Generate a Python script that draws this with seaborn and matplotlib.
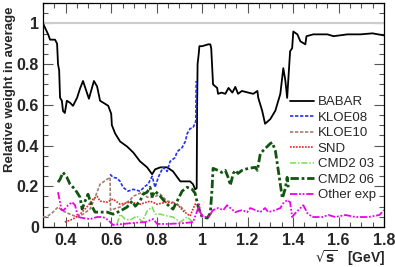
import matplotlib
matplotlib.use("Agg")
import matplotlib.pyplot as plt
import seaborn as sns
import pandas as pd
from matplotlib.ticker import MultipleLocator

# ---------------- data ----------------
babar_x = [0.300, 0.323, 0.331, 0.353, 0.362, 0.366, 0.371, 0.375, 0.383, 0.388,
           0.396, 0.405, 0.419, 0.432, 0.450, 0.463, 0.476, 0.490, 0.502, 0.524,
           0.538, 0.551, 0.573, 0.587, 0.600, 0.603, 0.617, 0.639, 0.670, 0.697,
           0.727, 0.758, 0.780, 0.793, 0.816, 0.846, 0.872, 0.904, 0.947, 0.960,
           0.969, 0.976, 0.978, 0.980, 0.985, 0.988, 1.000, 1.027, 1.036, 1.040,
           1.048, 1.066, 1.070, 1.086, 1.102, 1.116, 1.133, 1.146, 1.158, 1.175,
           1.203, 1.225, 1.243, 1.247, 1.264, 1.277, 1.300, 1.322, 1.344, 1.357,
           1.366, 1.374, 1.387, 1.396, 1.401, 1.419, 1.432, 1.454, 1.459, 1.489,
           1.551, 1.578, 1.639, 1.697, 1.749, 1.800]
babar_y = [1.000, 0.945, 0.920, 0.920, 0.900, 0.800, 0.770, 0.635, 0.620, 0.570,
           0.560, 0.620, 0.610, 0.595, 0.635, 0.680, 0.717, 0.670, 0.630, 0.717,
           0.690, 0.620, 0.605, 0.595, 0.556, 0.500, 0.460, 0.420, 0.395, 0.366,
           0.322, 0.293, 0.259, 0.283, 0.293, 0.293, 0.273, 0.224, 0.224, 0.210,
           0.185, 0.190, 0.600, 0.800, 0.850, 0.888, 0.888, 0.897, 0.897, 0.878,
           0.700, 0.683, 0.654, 0.660, 0.654, 0.683, 0.660, 0.688, 0.654, 0.668,
           0.660, 0.654, 0.668, 0.634, 0.571, 0.507, 0.530, 0.571, 0.654, 0.780,
           0.720, 0.634, 0.863, 0.878, 0.960, 0.946, 0.912, 0.897, 0.937, 0.946,
           0.946, 0.937, 0.946, 0.946, 0.951, 0.941]

kloe08_x = [0.595, 0.608, 0.626, 0.639, 0.652, 0.674, 0.697, 0.727, 0.749, 0.762,
            0.780, 0.793, 0.807, 0.828, 0.846, 0.859, 0.881, 0.890, 0.912, 0.926,
            0.934, 0.947, 0.960, 0.965, 0.972, 0.974]
kloe08_y = [0.259, 0.244, 0.240, 0.224, 0.195, 0.176, 0.185, 0.176, 0.200, 0.210,
            0.249, 0.195, 0.244, 0.293, 0.273, 0.322, 0.341, 0.370, 0.390, 0.420,
            0.458, 0.483, 0.488, 0.500, 0.520, 0.717]

kloe10_x = [0.300, 0.317, 0.344, 0.366, 0.388, 0.419, 0.450, 0.476, 0.507, 0.529,
            0.551, 0.582, 0.595, 0.597, 0.639, 0.683, 0.697, 0.727, 0.740, 0.758,
            0.785, 0.816, 0.846, 0.872, 0.904, 0.926]
kloe10_y = [0.049, 0.050, 0.073, 0.098, 0.078, 0.063, 0.049, 0.063, 0.088, 0.146,
            0.210, 0.234, 0.244, 0.083, 0.098, 0.132, 0.151, 0.166, 0.171, 0.146,
            0.146, 0.161, 0.127, 0.122, 0.102, 0.078]

snd_x = [0.396, 0.432, 0.463, 0.493, 0.520, 0.538, 0.551, 0.582, 0.608, 0.639,
         0.683, 0.727, 0.771, 0.802, 0.846, 0.890, 0.917, 0.947, 0.969, 0.983]
snd_y = [0.024, 0.039, 0.063, 0.098, 0.137, 0.151, 0.127, 0.122, 0.137, 0.112,
         0.122, 0.112, 0.127, 0.112, 0.122, 0.112, 0.078, 0.054, 0.112, 0.112]

cmd03_x = [0.626, 0.639, 0.661, 0.683, 0.713, 0.736, 0.758, 0.780, 0.793, 0.816,
           0.846, 0.872, 0.904, 0.934, 0.960]
cmd03_y = [0.015, 0.063, 0.039, 0.034, 0.054, 0.024, 0.078, 0.098, 0.063, 0.063,
           0.054, 0.049, 0.024, 0.049, 0.024]

cmd06_x = [0.366, 0.375, 0.388, 0.405, 0.419, 0.441, 0.463, 0.472, 0.485, 0.498,
           0.515, 0.529, 0.551, 0.582, 0.608, 0.639, 0.670, 0.692, 0.706, 0.727,
           0.740, 0.758, 0.771, 0.780, 0.793, 0.816, 0.837, 0.859, 0.872, 0.890,
           0.912, 0.934, 0.956, 0.969, 0.983, 1.000, 1.023, 1.036, 1.044, 1.048,
           1.070, 1.086, 1.102, 1.116, 1.124, 1.137, 1.146, 1.158, 1.175, 1.203,
           1.234, 1.243, 1.256, 1.277, 1.300, 1.308, 1.322, 1.335, 1.353, 1.366,
           1.374, 1.379]
cmd06_y = [0.220, 0.234, 0.268, 0.244, 0.210, 0.185, 0.146, 0.088, 0.127, 0.161,
           0.102, 0.073, 0.073, 0.073, 0.063, 0.078, 0.098, 0.127, 0.102, 0.127,
           0.161, 0.171, 0.195, 0.150, 0.176, 0.151, 0.122, 0.098, 0.088, 0.127,
           0.176, 0.195, 0.185, 0.166, 0.098, 0.049, 0.044, 0.068, 0.195, 0.288,
           0.278, 0.268, 0.278, 0.239, 0.205, 0.263, 0.278, 0.263, 0.278, 0.288,
           0.293, 0.278, 0.361, 0.385, 0.410, 0.415, 0.376, 0.278, 0.141, 0.190,
           0.244, 0.195]

other_x = [0.366, 0.373, 0.382, 0.392, 0.410, 0.428, 0.441, 0.454, 0.476, 0.507,
           0.538, 0.564, 0.587, 0.608, 0.697, 0.749, 0.785, 0.802, 0.846, 0.908,
           0.960, 0.978, 0.987, 0.991, 1.005, 1.027, 1.048, 1.070, 1.093, 1.110,
           1.124, 1.146, 1.175, 1.198, 1.212, 1.234, 1.256, 1.277, 1.291, 1.322,
           1.344, 1.357, 1.374, 1.387, 1.396, 1.410, 1.432, 1.445, 1.463, 1.484,
           1.529, 1.555, 1.586, 1.630, 1.674, 1.731, 1.780, 1.800]
other_y = [0.171, 0.132, 0.083, 0.083, 0.107, 0.122, 0.107, 0.049, 0.044, 0.039,
           0.049, 0.049, 0.034, 0.010, 0.020, 0.024, 0.039, 0.015, 0.015, 0.018,
           0.024, 0.078, 0.112, 0.073, 0.049, 0.049, 0.083, 0.093, 0.083, 0.107,
           0.093, 0.073, 0.083, 0.073, 0.093, 0.083, 0.073, 0.093, 0.073, 0.083,
           0.093, 0.117, 0.132, 0.122, 0.049, 0.068, 0.093, 0.107, 0.068, 0.049,
           0.049, 0.059, 0.049, 0.059, 0.049, 0.049, 0.059, 0.083]

labels = ["BABAR", "KLOE08", "KLOE10", "SND", "CMD2 03", "CMD2 06", "Other exp"]
x_ticks = [0.4, 0.6, 0.8, 1.0, 1.2, 1.4, 1.6, 1.8]
x_ticklabels = ["0.4", "0.6", "0.8", "1", "1.2", "1.4", "1.6", "1.8"]
y_ticks = [0, 0.2, 0.4, 0.6, 0.8, 1.0]
y_ticklabels = ["0", "0.2", "0.4", "0.6", "0.8", "1"]

# ---------------- styles ----------------
series = [
    (babar_x, babar_y, dict(color="black", lw=1.3, linestyle="-")),
    (kloe08_x, kloe08_y, dict(color="#2233ee", lw=1.2, linestyle=(0, (2, 1)))),
    (kloe10_x, kloe10_y, dict(color="#a08070", lw=1.2, linestyle=(0, (2, 1)))),
    (snd_x, snd_y, dict(color="#ee2222", lw=1.2, linestyle=(0, (1, 0.8)))),
    (cmd03_x, cmd03_y, dict(color="#77dd55", lw=1.1, linestyle=(0, (4, 1.2, 1, 1.2)))),
    (cmd06_x, cmd06_y, dict(color="#115511", lw=2.0, linestyle=(0, (3, 1, 1, 1)))),
    (other_x, other_y, dict(color="#ee00ee", lw=1.3, linestyle=(0, (4, 1, 1, 1, 1, 1)))),
]

sns.set_theme(style="ticks")
plt.rcParams["font.family"] = ["Liberation Sans", "DejaVu Sans"]

fig = plt.figure(figsize=(3.95, 2.67), dpi=100)
ax = fig.add_axes([43 / 395, 40 / 267, 341 / 395, 224 / 267])

ax.axhline(1.0, color="#cccccc", lw=1.5, zorder=1)

handles = []
for (xs, ys, st), lab in zip(series, labels):
    df = pd.DataFrame({"x": xs, "y": ys})
    before = len(ax.lines)
    sns.lineplot(data=df, x="x", y="y", ax=ax, estimator=None, sort=False,
                 color=st["color"], lw=st["lw"], linestyle=st["linestyle"], zorder=3)
    handles.append(ax.lines[before])

ax.set_xlim(0.3, 1.8)
ax.set_ylim(0, 1.1)
ax.set_xticks(x_ticks)
ax.set_xticklabels(x_ticklabels)
ax.set_yticks(y_ticks)
ax.set_yticklabels(y_ticklabels)
ax.xaxis.set_minor_locator(MultipleLocator(0.05))
ax.yaxis.set_minor_locator(MultipleLocator(0.05))
ax.tick_params(which="both", direction="in", top=True, right=True, color="#555555")
ax.tick_params(which="major", length=7, width=0.8)
ax.tick_params(axis="x", which="major", pad=4)
ax.tick_params(axis="y", which="major", pad=3)
ax.tick_params(which="minor", length=3.5, width=0.8)
for lab in ax.get_xticklabels() + ax.get_yticklabels():
    lab.set_fontweight("bold")
    lab.set_fontsize(11.5)
for sp in ax.spines.values():
    sp.set_color("black")
    sp.set_linewidth(0.9)

ax.set_xlabel("")
ax.set_ylabel("")
fig.text(10 / 395, 1 - 89 / 267, "Relative weight in average", rotation=90,
         ha="center", va="center", fontsize=9.5, fontweight="bold")
fig.text(385 / 395, 1 - 258 / 267, "$\\sqrt{\\mathbf{s}}$   [GeV]", ha="right", va="center",
         fontsize=10, fontweight="bold")

leg = ax.legend(handles, labels, loc="upper left", bbox_to_anchor=(290 / 395, 1 - 96 / 267),
                bbox_transform=fig.transFigure, frameon=False, fontsize=9.5,
                handlelength=1.8, handletextpad=0.3, labelspacing=0.25, borderpad=0,
                borderaxespad=0)

fig.savefig("out.png", dpi=100)
